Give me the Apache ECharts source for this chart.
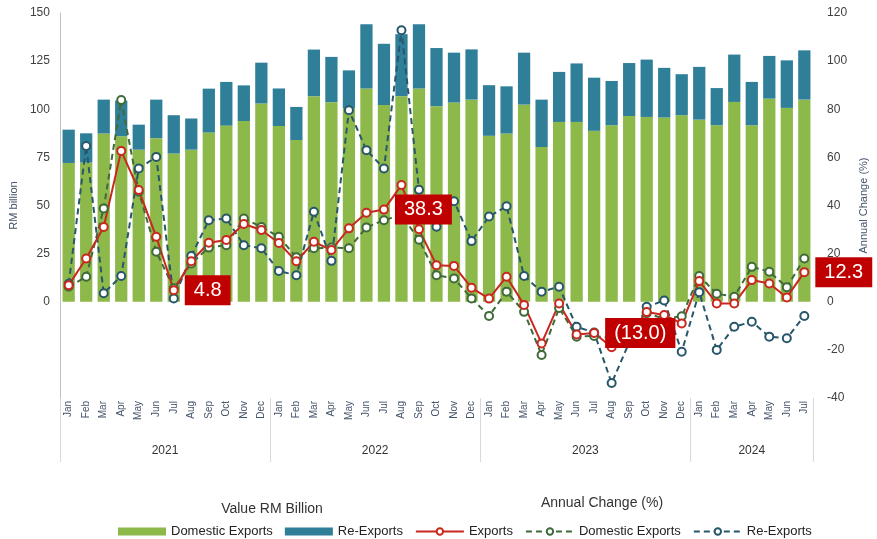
<!doctype html>
<html>
	<head>
		<meta charset="UTF-8">
		<title>Exports</title>
		<script src="https://cdn.jsdelivr.net/npm/echarts@6.0.0/dist/echarts.min.js"></script>
		<style>
			html, body { margin: 0; padding: 0; background: #fff; }
			#main { width: 877px; height: 539px; }
		</style>
	</head>
	<body>
		<div id="main"></div>
		<script type="text/javascript">
			// categories
			var monthNames = ['Jan','Feb','Mar','Apr','May','Jun','Jul','Aug','Sep','Oct','Nov','Dec'];
			var years = ['2021','2022','2023','2024'];
			var monthsInYear = [12, 12, 12, 7];

			// RM billion
			var domesticVal = [72.1, 72.3, 87.4, 86.0, 79.0, 85.0, 77.0, 79.0, 87.9, 91.5, 93.9, 103.0,
				91.3, 84.0, 106.8, 103.7, 100.5, 110.8, 102.2, 106.8, 110.8, 101.6, 103.5, 105.0,
				86.2, 87.4, 102.4, 80.4, 93.4, 93.4, 88.8, 91.7, 96.5, 96.0, 95.7, 96.9,
				94.6, 91.7, 103.8, 91.7, 105.5, 100.7, 105.0];
			var reExportVal = [17.3, 15.2, 17.6, 18.5, 13.0, 20.0, 19.9, 16.2, 22.8, 22.7, 18.5, 21.2,
				19.5, 17.2, 24.2, 23.5, 19.7, 33.4, 31.8, 32.2, 33.4, 30.2, 25.9, 26.1,
				26.3, 24.5, 27.0, 24.6, 26.0, 30.4, 27.6, 23.0, 27.5, 29.8, 25.8, 21.3,
				27.4, 19.3, 24.6, 22.5, 22.2, 24.7, 25.6];

			// annual change %
			var exportsChg = [6.9, 18.0, 31.1, 62.7, 46.4, 27.0, 4.8, 16.8, 24.5, 25.7, 32.3, 29.8,
				24.4, 16.8, 24.9, 21.5, 30.5, 37.0, 38.3, 48.5, 30.1, 15.2, 14.9, 5.8,
				1.3, 10.4, -1.3, -17.3, -0.7, -13.6, -13.0, -18.9, -13.7, -4.3, -5.5, -9.0,
				8.6, -0.7, -0.7, 9.0, 7.6, 1.8, 12.3];
			var domesticChg = [6.2, 10.4, 38.8, 83.8, 45.7, 20.8, 5.6, 15.9, 22.5, 23.5, 34.6, 31.1,
				27.0, 18.5, 22.2, 22.5, 22.2, 30.9, 33.9, 36.0, 25.8, 11.0, 9.7, 1.4,
				-5.9, 4.2, -4.2, -22.1, -2.6, -14.5, -14.2, -15.1, -13.0, -4.8, -7.0, -6.0,
				10.7, 3.3, 2.1, 14.5, 12.5, 6.0, 18.0];
			var reExportChg = [7.5, 64.7, 3.5, 10.7, 55.4, 60.2, 1.4, 19.0, 33.9, 34.6, 23.5, 22.2,
				12.8, 11.0, 37.4, 17.0, 79.6, 63.0, 55.4, 112.8, 46.5, 31.2, 41.8, 25.2,
				35.4, 39.7, 10.7, 4.2, 6.2, -10.4, -12.8, -33.8, -17.0, -2.1, 0.5, -20.8,
				4.0, -20.0, -10.4, -8.3, -14.5, -15.2, -5.9];

			// which points carry a value box (every July)
			var labelIdx = [6, 18, 30, 42];

			var months = [];
			var yearStart = [];
			var yearMid = [];
			var n = 0;
			for (var y = 0; y < years.length; y++) {
				yearStart.push(n);
				yearMid.push(n + monthsInYear[y] / 2);
				for (var m = 0; m < monthsInYear[y]; m++) {
					months.push(monthNames[m]);
				}
				n += monthsInYear[y];
			}
			yearStart.push(n);

			var exportsData = exportsChg.map(function (v, i) {
				if (labelIdx.indexOf(i) >= 0) {
					return { value: v, label: { show: true } };
				}
				return v;
			});

			var font = 'Liberation Sans';
			var myChart = echarts.init(document.getElementById('main'));
			var option = {
				backgroundColor: '#ffffff',
				textStyle: { fontFamily: font },
				title: [{
					text: 'Value RM Billion',
					left: 267,
					textAlign: 'center',
					top: 497,
					textStyle: { fontSize: 14, fontWeight: 'normal', color: '#333', fontFamily: font }
				}, {
					text: 'Annual Change (%)',
					left: 597,
					textAlign: 'center',
					top: 491,
					textStyle: { fontSize: 14, fontWeight: 'normal', color: '#333', fontFamily: font }
				}],
				legend: {
					left: 113,
					top: 520,
					itemWidth: 48,
					itemHeight: 8,
					itemGap: 12,
					textStyle: { fontSize: 13, color: '#222', fontFamily: font },
					formatter: function (name) {
						return name.replace(' (%)', '');
					},
					data: [
						{ name: 'Domestic Exports', icon: 'rect' },
						{ name: 'Re-Exports', icon: 'rect' },
						'Exports',
						'Domestic Exports (%)',
						'Re-Exports (%)'
					]
				},
				grid: {
					left: 54,
					right: 54,
					top: 13,
					bottom: 141
				},
				xAxis: [{
					type: 'category',
					data: months,
					boundaryGap: true,
					axisLine: { show: false, onZero: false },
					axisTick: { show: false },
					axisLabel: {
						interval: 0,
						rotate: 90,
						margin: 3,
						fontSize: 10,
						color: '#44546a'
					}
				}, {
					type: 'value',
					position: 'bottom',
					min: 0,
					max: n,
					splitLine: { show: false },
					axisLine: { show: false, onZero: false },
					axisTick: {
						show: true,
						length: 64,
						customValues: yearStart,
						lineStyle: { color: '#d9d9d9' }
					},
					axisLabel: {
						margin: 47,
						fontSize: 12,
						color: '#333',
						customValues: yearMid,
						formatter: function (v) {
							for (var i = 0; i < yearMid.length; i++) {
								if (Math.abs(yearMid[i] - v) < 0.01) return years[i];
							}
							return '';
						}
					}
				}],
				yAxis: [{
					type: 'value',
					min: -50,
					max: 150,
					interval: 25,
					name: 'RM billion',
					nameLocation: 'middle',
					nameGap: 31,
					nameRotate: 90,
					nameTextStyle: { fontSize: 11, color: '#44546a' },
					axisLine: { show: true, lineStyle: { color: '#bfbfbf' } },
					axisTick: { show: false },
					splitLine: { show: false },
					axisLabel: {
						margin: 10,
						fontSize: 12,
						color: '#404040',
						formatter: function (v) {
							return v < 0 ? '' : v;
						}
					}
				}, {
					type: 'value',
					min: -40,
					max: 120,
					interval: 20,
					name: 'Annual Change (%)',
					nameLocation: 'middle',
					nameGap: 33,
					nameRotate: 90,
					nameTextStyle: { fontSize: 11, color: '#44546a' },
					axisLine: { show: false },
					axisTick: { show: false },
					splitLine: { show: false },
					axisLabel: {
						margin: 14,
						fontSize: 12,
						color: '#404040'
					}
				}],
				series: [{
					name: 'Domestic Exports',
					type: 'bar',
					stack: 'value',
					barWidth: '70%',
					itemStyle: { color: '#8db84a' },
					data: domesticVal
				}, {
					name: 'Re-Exports',
					type: 'bar',
					stack: 'value',
					barWidth: '70%',
					itemStyle: { color: '#2f7f98' },
					data: reExportVal
				}, {
					name: 'Domestic Exports (%)',
					type: 'line',
					yAxisIndex: 1,
					symbol: 'emptyCircle',
					symbolSize: 8,
					lineStyle: { color: '#3f6a3a', width: 2, type: [6, 4] },
					itemStyle: { color: '#3f6a3a', borderWidth: 1.2 },
					data: domesticChg
				}, {
					name: 'Re-Exports (%)',
					type: 'line',
					yAxisIndex: 1,
					symbol: 'emptyCircle',
					symbolSize: 8,
					lineStyle: { color: '#28566a', width: 2, type: [6, 4] },
					itemStyle: { color: '#28566a', borderWidth: 1.2 },
					data: reExportChg
				}, {
					name: 'Exports',
					type: 'line',
					yAxisIndex: 1,
					symbol: 'emptyCircle',
					symbolSize: 8,
					lineStyle: { color: '#c8281e', width: 2 },
					itemStyle: { color: '#c8281e', borderWidth: 1.2 },
					label: {
						show: false,
						position: 'right',
						distance: 6,
						backgroundColor: '#c00000',
						color: '#ffffff',
						fontSize: 20,
						padding: [6, 9, 4, 9],
						formatter: function (p) {
							var v = p.value;
							return v < 0 ? '(' + Math.abs(v).toFixed(1) + ')' : v.toFixed(1);
						}
					},
					data: exportsData
				}]
			};
			myChart.setOption(option);
		</script>
	</body>
</html>
